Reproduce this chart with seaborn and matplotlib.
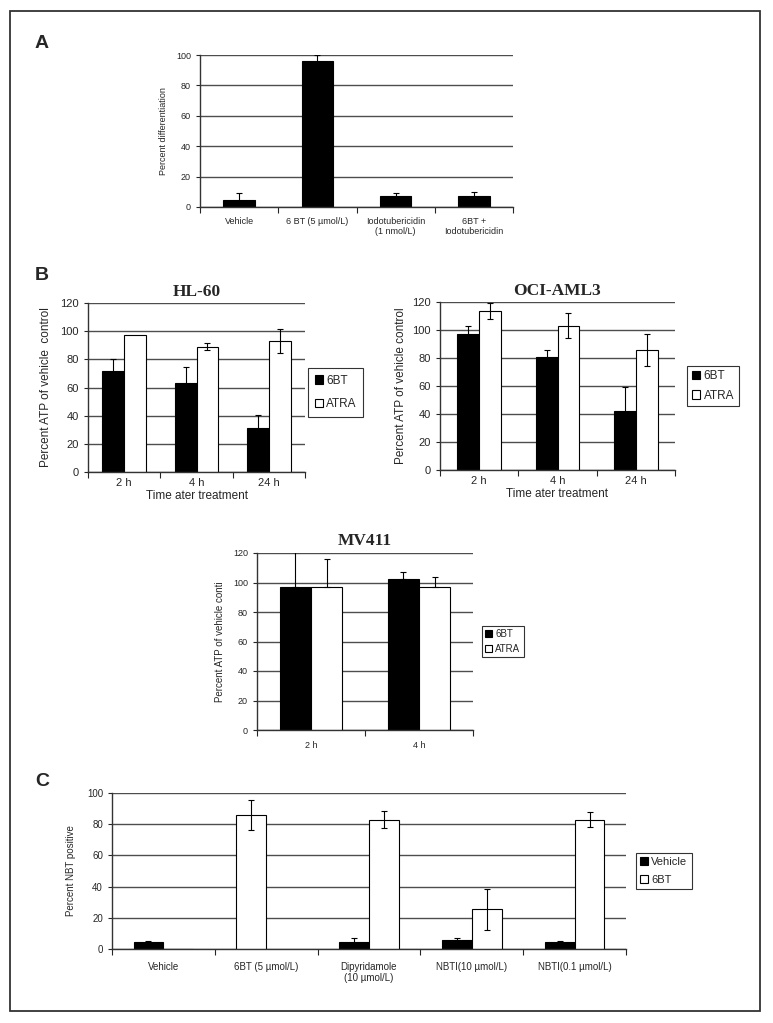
import numpy as np
import pandas as pd
import seaborn as sns
import matplotlib.pyplot as plt
from matplotlib.patches import Rectangle

# ---------------- Panel A ----------------
a_labels = ["Vehicle", "6 BT (5 µmol/L)", "Iodotubericidin\n(1 nmol/L)", "6BT +\nIodotubericidin"]
a_values = [4.5, 96, 7, 7.5]
a_err = [4.5, 4, 2, 2.5]

# ---------------- Panel B ----------------
hl60_times = ["2 h", "4 h", "24 h"]
hl60_6bt = [71.5, 63.5, 31.5]
hl60_6bt_err = [8.5, 11, 9]
hl60_atra = [97, 89, 93]
hl60_atra_err = [0, 2.5, 8.5]

oci_times = ["2 h", "4 h", "24 h"]
oci_6bt = [97.5, 81, 42.5]
oci_6bt_err = [5.5, 5, 16.5]
oci_atra = [113.5, 103, 86]
oci_atra_err = [5.5, 9, 11.5]

mv_times = ["2 h", "4 h"]
mv_6bt = [97, 102.5]
mv_6bt_err = [24, 4.5]
mv_atra = [97, 97]
mv_atra_err = [19, 7]

# ---------------- Panel C ----------------
c_labels = ["Vehicle", "6BT (5 µmol/L)", "Dipyridamole\n(10 µmol/L)", "NBTI(10 µmol/L)", "NBTI(0.1 µmol/L)"]
c_vehicle = [4.3, 0, 4.3, 5.8, 4.3]
c_vehicle_err = [0.8, 0, 2.5, 1.5, 0.6]
c_6bt = [0, 86, 83, 25.5, 83]
c_6bt_err = [0, 9.5, 5.5, 13, 5]

sns.set_style("white")
plt.rcParams["font.family"] = ["Liberation Sans", "DejaVu Sans"]

W, H = 773, 1023
fig = plt.figure(figsize=(W / 100, H / 100), dpi=100)


def box(x0, y0, x1, y1):
    """pixel box -> figure axes"""
    return fig.add_axes([x0 / W, 1 - y1 / H, (x1 - x0) / W, (y1 - y0) / H])


def draw_errors(ax, errs, one_sided=False):
    for cont, err in zip(ax.containers, errs):
        xs, ys, lo, hi = [], [], [], []
        for bar, e in zip(cont, err):
            if e == 0:
                continue
            xs.append(bar.get_x() + bar.get_width() / 2)
            ys.append(bar.get_height())
            lo.append(0 if one_sided else e)
            hi.append(e)
        ax.errorbar(xs, ys, yerr=[lo, hi], fmt="none", ecolor="black",
                    elinewidth=0.8, capsize=2.5, capthick=0.8)


def style_axes(ax, ymax, ystep, fs, xpad=4):
    ax.set_ylim(0, ymax)
    ax.set_yticks(np.arange(0, ymax + 1, ystep))
    ax.yaxis.grid(True, color="#4d4d4d", linewidth=1)
    ax.xaxis.grid(False)
    ax.set_axisbelow(True)
    sns.despine(ax=ax)
    for s in ["left", "bottom"]:
        ax.spines[s].set_color("#333333")
        ax.spines[s].set_linewidth(1)
    n = len(ax.get_xticks())
    ax.set_xlim(-0.5, n - 0.5)
    ax.set_xticks(np.arange(-0.5, n), minor=True)
    ax.tick_params(axis="x", which="major", length=0, labelsize=fs, pad=xpad)
    ax.tick_params(axis="x", which="minor", length=4, width=0.8, direction="out", bottom=True)
    ax.tick_params(axis="y", length=3, width=0.8, labelsize=fs, left=True, direction="out")


def legend_right(ax, x, y, fs, pad, spacing):
    sns.move_legend(ax, "center left", bbox_to_anchor=(x, y), title=None,
                    frameon=True, fancybox=False, edgecolor="black", fontsize=fs,
                    handlelength=0.7, handleheight=0.7, handletextpad=0.3,
                    borderpad=pad, labelspacing=spacing, borderaxespad=0)
    ax.get_legend().get_frame().set_linewidth(0.8)


def pair_panel(ax, times, v1, e1, v2, e2, width, one_sided=False):
    n = len(times)
    df = pd.DataFrame({"time": times * 2,
                       "group": ["6BT"] * n + ["ATRA"] * n,
                       "value": v1 + v2})
    sns.barplot(data=df, x="time", y="value", hue="group",
                palette={"6BT": "black", "ATRA": "white"}, saturation=1,
                edgecolor="black", linewidth=0.8, width=width, gap=0,
                errorbar=None, ax=ax)
    draw_errors(ax, [e1, e2], one_sided)


# ---- A
ax = box(200, 55, 513, 207)
sns.barplot(x=a_labels, y=a_values, color="black", saturation=1, width=0.4,
            edgecolor="black", linewidth=0.8, errorbar=None, ax=ax)
draw_errors(ax, [a_err])
style_axes(ax, 100, 20, 6.5, xpad=7)
ax.set_ylabel("Percent differentiation", fontsize=6.5, labelpad=6)
ax.set_xlabel("")

# ---- B: HL-60
ax = box(88, 303, 305, 472)
pair_panel(ax, hl60_times, hl60_6bt, hl60_6bt_err, hl60_atra, hl60_atra_err, 0.6)
style_axes(ax, 120, 20, 8)
ax.set_ylabel("Percent ATP of vehicle  control", fontsize=8.5, labelpad=6)
ax.set_xlabel("Time ater treatment", fontsize=8.5, labelpad=2)
ax.set_title("HL-60", family="Liberation Serif", fontweight="bold", fontsize=12.5, pad=5)
legend_right(ax, 1.014, 0.47, 8.5, 0.55, 1.0)

# ---- B: OCI-AML3
ax = box(440, 302, 675, 470)
pair_panel(ax, oci_times, oci_6bt, oci_6bt_err, oci_atra, oci_atra_err, 0.56)
style_axes(ax, 120, 20, 8)
ax.set_ylabel("Percent ATP of vehicle control", fontsize=8.5, labelpad=4)
ax.set_xlabel("Time ater treatment", fontsize=8.5, labelpad=2)
ax.set_title("OCI-AML3", family="Liberation Serif", fontweight="bold", fontsize=12.5, pad=5)
legend_right(ax, 1.051, 0.5, 8.5, 0.4, 0.6)

# ---- B: MV411
ax = box(257, 553, 473, 730)
pair_panel(ax, mv_times, mv_6bt, mv_6bt_err, mv_atra, mv_atra_err, 0.58, one_sided=True)
style_axes(ax, 120, 20, 6.5, xpad=8)
ax.set_ylabel("Percent ATP of vehicle conti", fontsize=7, labelpad=6)
ax.set_xlabel("")
ax.set_title("MV411", family="Liberation Serif", fontweight="bold", fontsize=12.5, pad=6)
legend_right(ax, 1.042, 0.5, 7, 0.35, 0.5)

# ---- C
ax = box(112, 793, 626, 949)
n = len(c_labels)
dfc = pd.DataFrame({"cond": c_labels * 2,
                    "group": ["Vehicle"] * n + ["6BT"] * n,
                    "value": c_vehicle + c_6bt})
sns.barplot(data=dfc, x="cond", y="value", hue="group",
            palette={"Vehicle": "black", "6BT": "white"}, saturation=1,
            edgecolor="black", linewidth=0.8, width=0.58, gap=0,
            errorbar=None, ax=ax)
# the lone 6BT bar sits in the left slot in the original figure
b = ax.containers[1][1]
b.set_x(b.get_x() - b.get_width())
draw_errors(ax, [c_vehicle_err, c_6bt_err])
style_axes(ax, 100, 20, 7, xpad=9)
ax.set_ylabel("Percent NBT positive", fontsize=7, labelpad=8)
ax.set_xlabel("")
legend_right(ax, 1.019, 0.5, 8, 0.4, 0.7)

# panel letters and outer frame
for letter, (x, y) in {"A": (42, 44), "B": (42, 275), "C": (42, 782)}.items():
    fig.text(x / W, 1 - y / H, letter, ha="center", va="center",
             fontsize=14, fontweight="bold")
fig.add_artist(Rectangle((10 / W, 1 - 1011 / H), 750 / W, 1000 / H,
                         transform=fig.transFigure, fill=False,
                         edgecolor="#333333", linewidth=1.3))

fig.savefig("out.png", dpi=100)
